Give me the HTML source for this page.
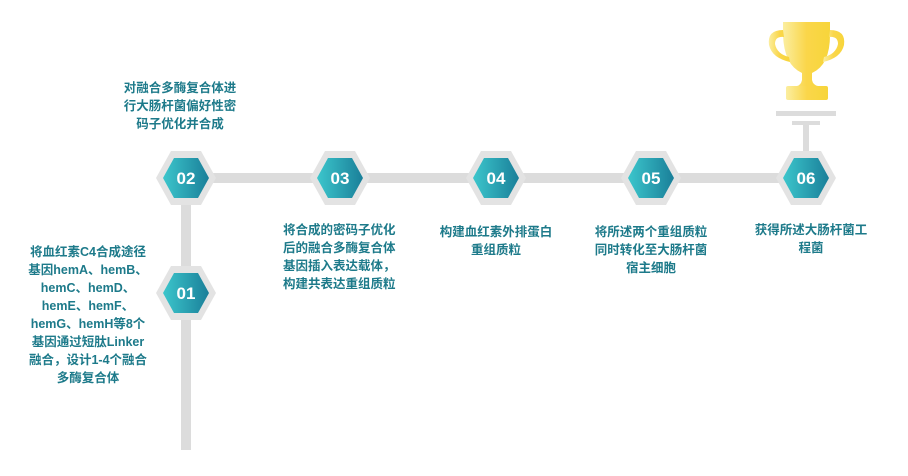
<!DOCTYPE html>
<html><head><meta charset="utf-8"><style>
body{margin:0;background:#fff;width:908px;height:471px;overflow:hidden}
.t{font-family:"Liberation Sans","Noto Sans CJK SC",sans-serif;font-size:12.5px;font-weight:bold;fill:#1d7a8a}
.n{font-family:"Liberation Sans",sans-serif;font-size:17px;font-weight:bold;fill:#fff}
</style></head><body>
<svg width="908" height="471" xmlns="http://www.w3.org/2000/svg">
<defs>
<linearGradient id="g" x1="0" x2="1"><stop offset="0" stop-color="#3cc6cc"/><stop offset="1" stop-color="#1a7f99"/></linearGradient>
<linearGradient id="y" x1="0" x2="1"><stop offset="0" stop-color="#fbeea0"/><stop offset="0.5" stop-color="#fad64a"/><stop offset="1" stop-color="#f7d53a"/></linearGradient>
<g id="hex">
<polygon points="-30,0 -15,-27 15,-27 30,0 15,27 -15,27" fill="#e3e3e3"/>
<polygon points="-23,0 -12,-20 12,-20 23,0 12,20 -12,20" fill="url(#g)"/>
</g>
</defs>
<rect x="186" y="173" width="620" height="10" fill="#dcdcdc"/>
<rect x="181" y="178" width="10" height="272" fill="#dcdcdc"/>
<rect x="776" y="111" width="60" height="5" fill="#dcdcdc"/>
<rect x="792" y="121" width="28" height="4" fill="#dcdcdc"/>
<rect x="803" y="121" width="6" height="30" fill="#dcdcdc"/>
<!-- trophy -->
<path d="M783,22 H830 V35 Q830,65 812,73 L812,80 Q813,85 818,86 H797 Q801,85 802,80 L802,73 Q784,65 783,35 Z" fill="url(#y)"/>
<path d="M783,30 Q767,30 769,45 Q772,58 790,62 L789,57 Q777,54 775,44 Q775,36 784,37Z" fill="url(#y)"/>
<path d="M830,30 Q846,30 844,45 Q841,58 823,62 L824,57 Q836,54 838,44 Q838,36 829,37Z" fill="url(#y)"/>
<rect x="786" y="86" width="42" height="14" rx="2" fill="url(#y)"/>
<use href="#hex" x="186" y="178"/><text class="n" x="186" y="184" text-anchor="middle">02</text>
<use href="#hex" x="340" y="178"/><text class="n" x="340" y="184" text-anchor="middle">03</text>
<use href="#hex" x="496" y="178"/><text class="n" x="496" y="184" text-anchor="middle">04</text>
<use href="#hex" x="651" y="178"/><text class="n" x="651" y="184" text-anchor="middle">05</text>
<use href="#hex" x="806" y="178"/><text class="n" x="806" y="184" text-anchor="middle">06</text>
<use href="#hex" x="186" y="293"/><text class="n" x="186" y="299" text-anchor="middle">01</text>
<g class="t" text-anchor="middle">
<text x="180" y="92">对融合多酶复合体进</text>
<text x="180" y="110">行大肠杆菌偏好性密</text>
<text x="180" y="128">码子优化并合成</text>
<text x="88" y="256">将血红素C4合成途径</text>
<text x="88" y="274">基因hemA、hemB、</text>
<text x="88" y="292">hemC、hemD、</text>
<text x="88" y="310">hemE、hemF、</text>
<text x="88" y="328">hemG、hemH等8个</text>
<text x="88" y="346">基因通过短肽Linker</text>
<text x="88" y="364">融合，设计1-4个融合</text>
<text x="88" y="382">多酶复合体</text>
<text x="496" y="236">构建血红素外排蛋白</text>
<text x="496" y="254">重组质粒</text>
<text x="651" y="236">将所述两个重组质粒</text>
<text x="651" y="254">同时转化至大肠杆菌</text>
<text x="651" y="272">宿主细胞</text>
<text x="811" y="234">获得所述大肠杆菌工</text>
<text x="811" y="252">程菌</text>
</g>
<g class="t">
<text x="283" y="234">将合成的密码子优化</text>
<text x="283" y="252">后的融合多酶复合体</text>
<text x="283" y="270">基因插入表达载体，</text>
<text x="283" y="288">构建共表达重组质粒</text>
</g>
</svg>
</body></html>
